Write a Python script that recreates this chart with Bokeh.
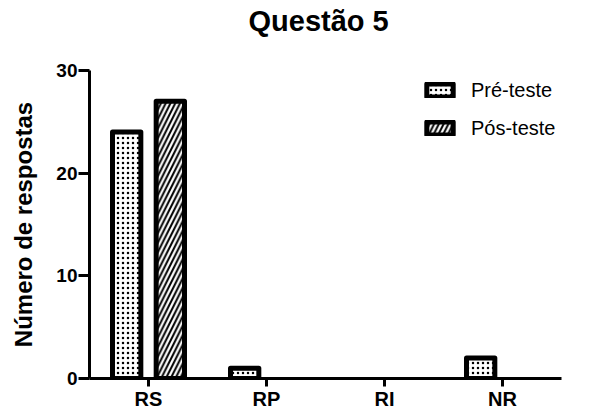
from bokeh.plotting import figure
from bokeh.models import (ColumnDataSource, FactorRange, FixedTicker, Legend, LegendItem,
                          CDSView, BooleanFilter, Title)
from bokeh.transform import dodge
from bokeh.embed import file_html
from bokeh.resources import INLINE

categories = ["RS", "RP", "RI", "NR"]
pre_teste = [24, 1, 0, 2]
pos_teste = [27, 0, 0, 0]
y_ticks = [0, 10, 20, 30]

FONT = "Liberation Sans"

p = figure(width=590, height=412, x_range=FactorRange(*categories), y_range=(0, 30),
           output_backend="svg", toolbar_location=None,
           min_border_left=89, min_border_right=29, min_border_top=70, min_border_bottom=32)

p.title.text = "Questão 5"
p.title.align = "left"
p.title.offset = 159
p.title.text_font = FONT
p.title.text_font_size = "29px"
p.title.text_font_style = "bold"
p.title.text_color = "black"
p.title.standoff = 0

# empty spacer between title and plot area
p.add_layout(Title(text=" ", text_font_size="10px", standoff=21), "above")

src = ColumnDataSource(dict(cat=categories, pre=pre_teste, pos=pos_teste))
view_pre = CDSView(filter=BooleanFilter([v > 0 for v in pre_teste]))
view_pos = CDSView(filter=BooleanFilter([v > 0 for v in pos_teste]))

r1 = p.vbar(x=dodge("cat", -0.185, range=p.x_range), top="pre", width=0.24, source=src, view=view_pre,
            fill_color="white", line_color="black", line_width=5, line_join="round",
            hatch_pattern="dot", hatch_color="black", hatch_scale=5, hatch_weight=1.6)
r2 = p.vbar(x=dodge("cat", 0.185, range=p.x_range), top="pos", width=0.24, source=src, view=view_pos,
            fill_color="white", line_color="black", line_width=5, line_join="round",
            hatch_pattern="right_diagonal_line", hatch_color="black", hatch_scale=9.5, hatch_weight=2)

legend = Legend(items=[LegendItem(label="Pré-teste", renderers=[r1]),
                       LegendItem(label="Pós-teste", renderers=[r2])],
                location=(334, 238), border_line_alpha=0, background_fill_alpha=0,
                padding=0, margin=0, spacing=14, glyph_width=33, glyph_height=16,
                label_standoff=15, label_text_font=FONT, label_text_font_size="20px",
                label_text_color="black", label_height=24)
p.add_layout(legend)

p.xgrid.grid_line_color = None
p.ygrid.grid_line_color = None
p.outline_line_color = None

p.yaxis.ticker = FixedTicker(ticks=y_ticks)
p.yaxis.minor_tick_line_color = None
p.yaxis.major_tick_in = 0
p.yaxis.major_tick_out = 11
p.yaxis.major_tick_line_width = 3
p.yaxis.axis_line_width = 3
p.yaxis.major_label_standoff = 1
p.yaxis.major_label_text_font = FONT
p.yaxis.major_label_text_font_size = "19px"
p.yaxis.major_label_text_font_style = "bold"
p.yaxis.major_label_text_color = "black"
p.yaxis.axis_label = "Número de respostas"
p.yaxis.axis_label_text_font = FONT
p.yaxis.axis_label_text_font_size = "24px"
p.yaxis.axis_label_text_font_style = "bold"
p.yaxis.axis_label_text_color = "black"
p.yaxis.axis_label_standoff = 16

p.xaxis.major_tick_in = 0
p.xaxis.major_tick_out = 8
p.xaxis.major_tick_line_width = 3
p.xaxis.axis_line_width = 3
p.xaxis.major_label_text_font = FONT
p.xaxis.major_label_text_font_size = "20px"
p.xaxis.major_label_text_font_style = "bold"
p.xaxis.major_label_text_color = "black"
p.xaxis.major_label_standoff = 1

open("out.html", "w").write(file_html(p, INLINE))
